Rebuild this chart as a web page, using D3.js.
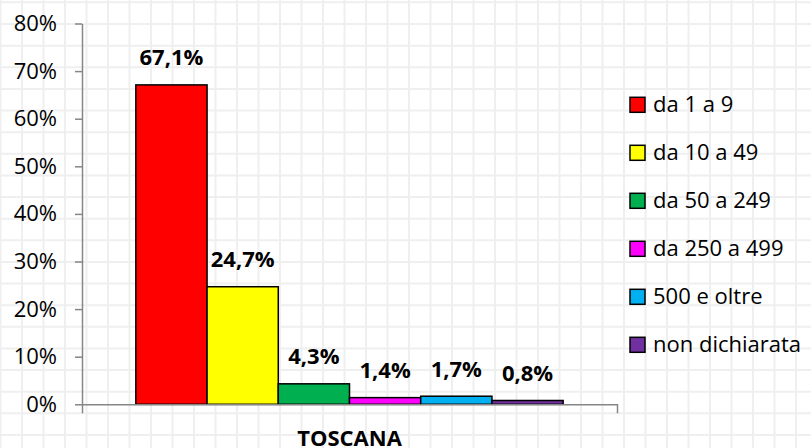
<!DOCTYPE html>
<html>
<head>
<meta charset="utf-8">
<script src="https://cdn.jsdelivr.net/npm/d3@7"></script>
<style>
    html, body { margin: 0; padding: 0; background: #fff; }
    svg { display: block; font-family: "Open Sans", sans-serif; }
    .axis path, .axis line { stroke: #868686; stroke-width: 1.5; }
    .axis text { fill: #000; font-size: 22px; }
    .axis-x text { font-weight: bold; }
    .bar-label { font-size: 22px; font-weight: bold; fill: #000; }
    .legend text { font-size: 22px; fill: #000; }
</style>
</head>
<body>
<div class="chart"><svg></svg></div>
<script>
// dati: dimensione delle imprese (addetti), Toscana
const categorie = ['TOSCANA'];
const classi = ['da 1 a 9', 'da 10 a 49', 'da 50 a 249', 'da 250 a 499', '500 e oltre', 'non dichiarata'];
const valori = [67.1, 24.7, 4.3, 1.4, 1.7, 0.8];
const colori = ['#ff0000', '#ffff00', '#00b050', '#ff00ff', '#00b0f0', '#7030a0'];
const tickY = [0, 10, 20, 30, 40, 50, 60, 70, 80];

const barChart = () => {
    const W = 811, H = 448;
    const margin = { top: 23.5, left: 82 };
    const width = 535;
    const height = 380.8;
    const svg = d3.select('.chart svg').attr('width', W).attr('height', H);
    const scales = {};

    const it = d3.formatLocale({ decimal: ',', thousands: '.', grouping: [3], currency: ['€', ''] });
    const fmt = d => it.format('.1f')(d) + '%';

    //Griglia di sfondo tipo foglio Excel
    const drawGrid = () => {
        const g = svg.append('g').attr('class', 'grid');
        g.selectAll('.gv')
            .data(d3.range(-1, 39).map(i => 22 + i * 21.5))
            .enter().append('line')
            .attr('x1', d => d).attr('x2', d => d)
            .attr('y1', 0).attr('y2', H)
            .attr('stroke', '#efefef').attr('stroke-width', 2);
        g.selectAll('.gh')
            .data(d3.range(-1, 21).map(i => 24 + i * 21.63))
            .enter().append('line')
            .attr('x1', 0).attr('x2', W)
            .attr('y1', d => d).attr('y2', d => d)
            .attr('stroke', '#efefef').attr('stroke-width', 2);
    }

    const setupScales = () => {
        const x0 = d3.scaleBand()
            .domain(categorie)
            .range([0, width])
            .paddingInner(0)
            .paddingOuter(0.126);
        const x1 = d3.scaleBand()
            .domain(classi)
            .range([0, x0.bandwidth()]);
        const y = d3.scaleLinear()
            .domain([0, 80])
            .range([height, 0]);
        scales.count = { x0: x0, x1: x1, y: y };
    }

    const drawAxes = (g) => {
        const axisY = d3.axisLeft(scales.count.y)
            .tickValues(tickY)
            .tickFormat(d => d + '%')
            .tickSizeInner(7)
            .tickSizeOuter(0)
            .tickPadding(18);
        g.append('g').attr('class', 'axis axis-y').call(axisY);

        const axisX = d3.axisBottom(scales.count.x0)
            .tickSizeInner(0)
            .tickSizeOuter(9)
            .tickPadding(26);
        g.append('g').attr('class', 'axis axis-x')
            .attr('transform', 'translate(0,' + height + ')')
            .call(axisX);
        g.selectAll('.axis text').attr('font-family', '"Open Sans", sans-serif');
    }

    const drawBars = (g) => {
        const rows = categorie.map(c => ({ cat: c, vals: classi.map((k, i) => ({ k: k, v: valori[i], c: colori[i] })) }));
        const grp = g.selectAll('.gruppo')
            .data(rows)
            .enter().append('g')
            .attr('class', 'gruppo')
            .attr('transform', d => 'translate(' + scales.count.x0(d.cat) + ',0)');

        grp.selectAll('rect')
            .data(d => d.vals)
            .enter().append('rect')
            .attr('x', d => scales.count.x1(d.k))
            .attr('y', d => scales.count.y(d.v))
            .attr('width', scales.count.x1.bandwidth())
            .attr('height', d => height - scales.count.y(d.v))
            .attr('fill', d => d.c)
            .attr('stroke', '#000')
            .attr('stroke-width', 1.5);

        grp.selectAll('.bar-label')
            .data(d => d.vals)
            .enter().append('text')
            .attr('class', 'bar-label')
            .attr('x', d => scales.count.x1(d.k) + scales.count.x1.bandwidth() / 2)
            .attr('y', d => scales.count.y(d.v) - 19.5)
            .attr('text-anchor', 'middle')
            .text(d => fmt(d.v));
    }

    const drawLegend = () => {
        const lg = svg.append('g').attr('class', 'legend')
            .attr('transform', 'translate(630,104.8)');
        const item = lg.selectAll('.item')
            .data(classi)
            .enter().append('g')
            .attr('class', 'item')
            .attr('transform', (d, i) => 'translate(0,' + i * 48 + ')');
        item.append('rect')
            .attr('x', 0).attr('y', -7.5)
            .attr('width', 15).attr('height', 15)
            .attr('fill', (d, i) => colori[i])
            .attr('stroke', '#000').attr('stroke-width', 1.5);
        item.append('text')
            .attr('x', 23).attr('y', 7.5)
            .text(d => d);
    }

    drawGrid();
    setupScales();
    const g = svg.append('g').attr('transform', 'translate(' + margin.left + ',' + margin.top + ')');
    drawBars(g);
    drawAxes(g);
    drawLegend();
}

barChart()
</script>
</body>
</html>
